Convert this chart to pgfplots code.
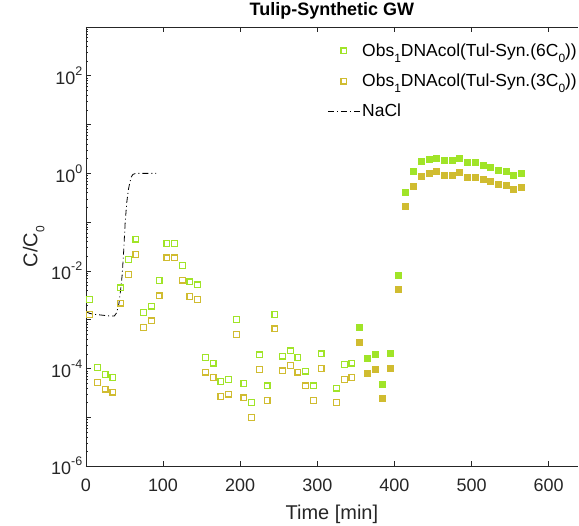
\documentclass[border=0pt]{standalone}
\usepackage{fontspec}
\setmainfont{Liberation Sans}
\usepackage{pgfplots}
\pgfplotsset{compat=1.18}

\definecolor{grn}{RGB}{160,228,40}
\definecolor{gld}{RGB}{208,188,48}
\definecolor{axgray}{RGB}{38,38,38}

% matlab-ish super/subscripts in the text font
\newcommand{\spr}[1]{\raisebox{0.5em}{\fontsize{12.5}{13}\selectfont #1}}
\newcommand{\sbs}[1]{\raisebox{-0.35em}{\fontsize{12}{13}\selectfont #1}}

\pgfplotsset{
  legend image code/.code={%
    \draw[mark repeat=2,mark phase=2,#1] plot coordinates {(0pt,0pt) (16pt,0pt) (32pt,0pt)};},
}

\begin{document}
\begin{tikzpicture}
\begin{axis}[
  name=ax,
  scale only axis,
  width=493pt, height=440pt,
  xmin=0, xmax=638,
  ymode=log, ymin=1e-6, ymax=1e3,
  axis x line*=box, axis y line*=left,
  axis line style={axgray, line width=0.6pt},
  every tick/.style={axgray, line width=0.6pt},
  major tick length=5pt, minor tick length=2.5pt,
  xtick={0,100,200,300,400,500,600},
  ytick={1e-6,1e-5,1e-4,1e-3,1e-2,1e-1,1,10,100,1000},
  yticklabels={10\spr{-6},,10\spr{-4},,10\spr{-2},,10\spr{0},,10\spr{2},},
  minor ytick={2e-6,3e-6,4e-6,5e-6,6e-6,7e-6,8e-6,9e-6,
    2e-5,3e-5,4e-5,5e-5,6e-5,7e-5,8e-5,9e-5,
    2e-4,3e-4,4e-4,5e-4,6e-4,7e-4,8e-4,9e-4,
    2e-3,3e-3,4e-3,5e-3,6e-3,7e-3,8e-3,9e-3,
    2e-2,3e-2,4e-2,5e-2,6e-2,7e-2,8e-2,9e-2,
    0.2,0.3,0.4,0.5,0.6,0.7,0.8,0.9,
    2,3,4,5,6,7,8,9,
    20,30,40,50,60,70,80,90,
    200,300,400,500,600,700,800,900},
  tick label style={font=\fontsize{18}{20}\selectfont, text=axgray},
  xticklabel style={yshift=-9pt},
  /pgf/number format/assume math mode=true,
  xlabel={Time [min]},
  ylabel={C/C\sbs{0}},
  label style={font=\fontsize{20}{22}\selectfont, text=axgray},
  xlabel style={yshift=-7pt},
  title={\bfseries Tulip-Synthetic GW},
  title style={font=\fontsize{18}{20}\selectfont, yshift=-2pt},
  legend style={at={(1,0.971)}, anchor=north east, xshift=4pt, draw=none, fill=none,
    font=\fontsize{17.5}{19}\selectfont, row sep=12pt},
  legend cell align=left,
  clip=false,
]

% 6C0, open markers
\addplot[only marks, mark=square, mark size=2.9pt, grn, line width=1.2pt] coordinates {
(5,2.6e-3) (15,1.05e-4) (25,7.6e-5) (35,6.6e-5) (45,4.5e-3) (55,1.7e-2)
(65,4.5e-2) (75,1.4e-3) (85,1.9e-3) (95,6.3e-3) (105,3.7e-2) (115,3.7e-2)
(125,1.3e-2) (135,6.0e-3) (145,5.2e-3) (155,1.7e-4) (165,1.3e-4) (175,5.5e-5)
(185,5.9e-5) (195,1.0e-3) (205,5.0e-5) (215,2.0e-5) (225,1.9e-4) (235,4.4e-5)
(245,1.3e-3) (255,1.8e-4) (265,2.3e-4) (275,1.7e-4) (285,8.9e-5) (295,4.4e-5)
(305,2.0e-4) (325,4.0e-5) (335,1.2e-4) (345,1.3e-4)
};
\addlegendentry{Obs\sbs{1}DNAcol(Tul-Syn.(6C\sbs{0}))}

% 3C0, open markers
\addplot[only marks, mark=square, mark size=2.9pt, gld, line width=1.2pt] coordinates {
(5,1.3e-3) (15,5.2e-5) (25,3.8e-5) (35,3.3e-5) (45,2.2e-3) (55,8.5e-3)
(65,2.2e-2) (75,7.0e-4) (85,9.5e-4) (95,3.1e-3) (105,1.85e-2) (115,1.85e-2)
(125,6.5e-3) (135,3.0e-3) (145,2.6e-3) (155,8.5e-5) (165,6.5e-5) (175,2.7e-5)
(185,3.0e-5) (195,5.0e-4) (205,2.5e-5) (215,1.0e-5) (225,9.5e-5) (235,2.2e-5)
(245,6.5e-4) (255,9.0e-5) (265,1.15e-4) (275,8.5e-5) (285,4.4e-5) (295,2.2e-5)
(305,1.0e-4) (325,2.0e-5) (335,6.0e-5) (345,6.5e-5)
};
\addlegendentry{Obs\sbs{1}DNAcol(Tul-Syn.(3C\sbs{0}))}

% NaCl tracer
\addplot[black, line width=0.8pt, dash pattern=on 6pt off 3pt on 1pt off 3pt] coordinates {
(1,1.45e-3) (5,1.35e-3) (10,1.3e-3) (20,1.25e-3) (30,1.2e-3) (37,1.2e-3)
(40,1.4e-3) (43,2.2e-3) (45,4e-3) (47,8e-3) (49,2.5e-2) (51,0.1) (53,0.25)
(55,0.45) (57,0.65) (59,0.85) (61,0.95) (64,0.99) (68,1.0) (80,1.0) (91,1.0)
};
\addlegendentry{NaCl}

% filled markers (no legend)
\addplot[forget plot, only marks, mark=square*, mark size=3pt, grn, line width=1pt,
  mark options={fill=grn}] coordinates {
(355,7.1e-4) (365,1.6e-4) (375,1.9e-4) (385,4.8e-5) (395,2.0e-4) (405,8.0e-3)
(415,0.40) (425,1.08) (435,1.74) (445,1.95) (455,2.05) (465,1.8) (475,1.8)
(485,2.0) (495,1.66) (505,1.64) (515,1.46) (525,1.31) (535,1.17) (545,1.10)
(555,0.91) (565,1.01)
};
\addplot[forget plot, only marks, mark=square*, mark size=3pt, gld, line width=1pt,
  mark options={fill=gld}] coordinates {
(355,3.5e-4) (365,8.0e-5) (375,9.5e-5) (385,2.4e-5) (395,1.0e-4) (405,4.1e-3)
(415,0.21) (425,0.55) (435,0.88) (445,0.98) (455,1.07) (465,0.91) (475,0.91)
(485,1.03) (495,0.84) (505,0.84) (515,0.75) (525,0.67) (535,0.60) (545,0.56)
(555,0.46) (565,0.52)
};

\end{axis}
\pgfresetboundingbox
\path ([xshift=-86pt,yshift=-59pt]ax.south west) rectangle ([xshift=1pt,yshift=27pt]ax.north east);
\end{tikzpicture}
\end{document}
